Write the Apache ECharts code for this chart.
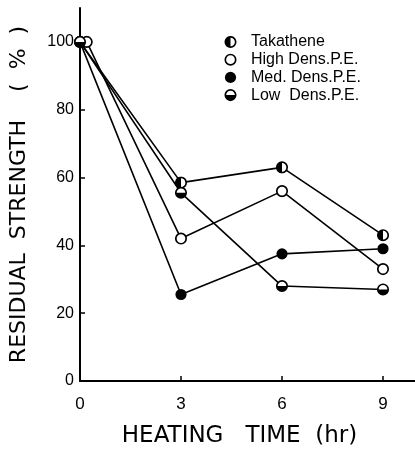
<!DOCTYPE html>
<html><head><meta charset="utf-8">
<script src="https://cdn.jsdelivr.net/npm/echarts@6/dist/echarts.min.js"></script>
<style>html,body{margin:0;padding:0;background:#fff}#c{width:415px;height:462px}</style>
</head><body><div id="c"></div>
<script>
// Data
var seriesNames = ['Takathene', 'High Dens.P.E.', 'Med. Dens.P.E.', 'Low  Dens.P.E.'];
var takatheneX = [0, 3, 6, 9];
var takatheneY = [100, 58.5, 63, 43];
var highX = [0.2, 3, 6, 9];
var highY = [100, 42, 56, 33];
var medX = [0, 3, 6, 9];
var medY = [100, 25.5, 37.5, 39];
var lowX = [0, 3, 6, 9];
var lowY = [100, 55.5, 28, 27];
var xTicks = [0, 3, 6, 9];
var yTicks = [0, 20, 40, 60, 80, 100];

function svgIcon(inner) {
  var s = '<svg xmlns="http://www.w3.org/2000/svg" width="14" height="14" viewBox="0 0 14 14">' + inner + '</svg>';
  return 'image://data:image/svg+xml;charset=utf-8,' + encodeURIComponent(s);
}
var ring = '<circle cx="7" cy="7" r="5.6" fill="#fff" stroke="#000" stroke-width="1.8"/>';
var icons = [
  svgIcon(ring + '<path d="M7,1.4 A5.6,5.6 0 0,0 7,12.6 Z" fill="#000"/>'),
  svgIcon(ring),
  svgIcon('<circle cx="7" cy="7" r="6" fill="#000"/>'),
  svgIcon(ring + '<path d="M1.4,7 A5.6,5.6 0 0,0 12.6,7 Z" fill="#000"/>')
];
function pairs(xs, ys) { return xs.map(function (x, i) { return [x, ys[i]]; }); }
var datasets = [pairs(takatheneX, takatheneY), pairs(highX, highY), pairs(medX, medY), pairs(lowX, lowY)];

var font = 'Liberation Sans';
var titleFont = 'DejaVu Sans';
var chart = echarts.init(document.getElementById('c'), null, {renderer: 'canvas'});
chart.setOption({
  animation: false,
  backgroundColor: '#fff',
  grid: {left: 79, right: 0, top: 8, bottom: 81, containLabel: false},
  legend: {
    orient: 'vertical', left: 219, top: 29, itemWidth: 13, itemHeight: 13, itemGap: 1.7,
    textStyle: {fontFamily: font, fontSize: 16, lineHeight: 16, color: '#000', padding: [0, 0, 0, 9]},
    data: seriesNames.map(function (n, i) { return {name: n, icon: icons[i]}; })
  },
  xAxis: {
    type: 'value', min: 0, max: 9.95, interval: 3,
    name: 'HEATING   TIME  (hr)', nameLocation: 'middle', nameGap: 44,
    nameTextStyle: {fontFamily: titleFont, fontSize: 23, color: '#000', padding: [0, 16, 0, 0]},
    axisLine: {lineStyle: {color: '#000', width: 2}},
    axisTick: {inside: true, length: 5, customValues: xTicks, lineStyle: {color: '#000', width: 1.5}},
    axisLabel: {fontFamily: font, fontSize: 17, color: '#000', margin: 15, customValues: xTicks},
    splitLine: {show: false}
  },
  yAxis: {
    type: 'value', min: 0, max: 110, interval: 20,
    name: 'RESIDUAL  STRENGTH    (  %  )', nameLocation: 'middle', nameGap: 50, nameRotate: 90,
    nameTextStyle: {fontFamily: titleFont, fontSize: 22, color: '#000'},
    axisLine: {lineStyle: {color: '#000', width: 2}},
    axisTick: {inside: true, length: 5, customValues: yTicks, lineStyle: {color: '#000', width: 1.5}},
    axisLabel: {fontFamily: font, fontSize: 16, color: '#000', margin: 6, customValues: yTicks},
    splitLine: {show: false}
  },
  series: seriesNames.map(function (n, i) {
    return {
      name: n, type: 'line', data: datasets[i], symbol: icons[i], symbolSize: 13,
      showAllSymbol: true,
      lineStyle: {color: '#000', width: 1.6}, itemStyle: {color: '#000'}
    };
  })
});
</script></body></html>
